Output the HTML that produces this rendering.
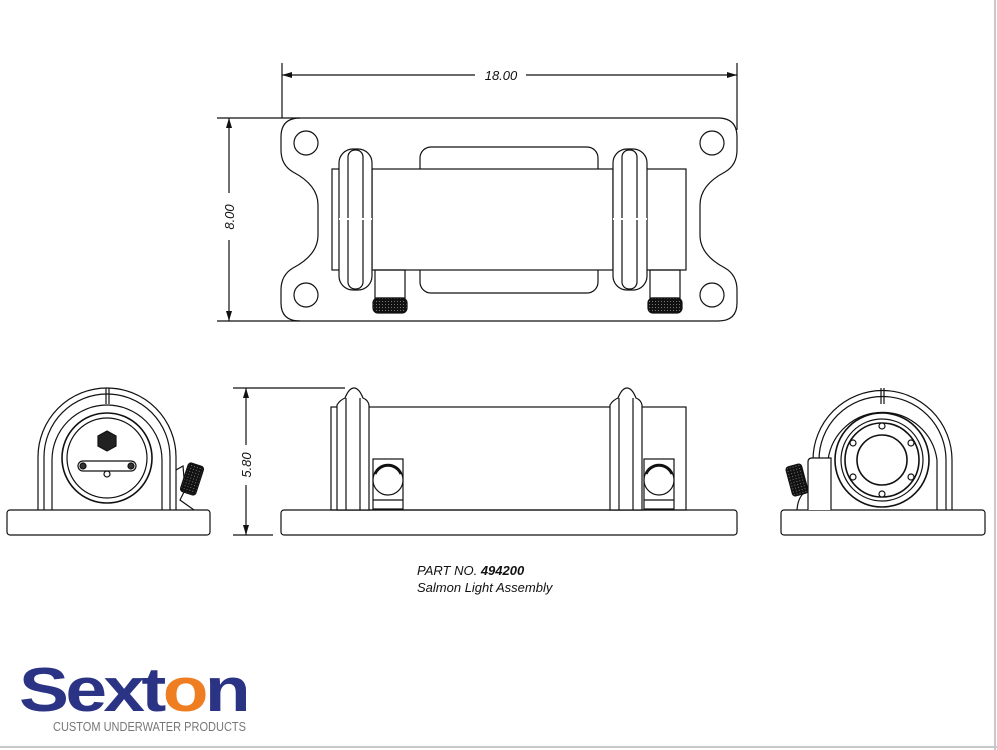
<!DOCTYPE html>
<html><head><meta charset="utf-8"><style>
html,body{margin:0;padding:0;background:#fff;width:997px;height:750px;overflow:hidden}
svg{display:block}
</style></head><body>
<svg width="997" height="750" viewBox="0 0 997 750" xmlns="http://www.w3.org/2000/svg" font-family="Liberation Sans, sans-serif">
<defs>
<pattern id="kn" width="3" height="3" patternUnits="userSpaceOnUse"><rect width="3" height="3" fill="#111"/><rect x="1" y="1" width="1" height="1" fill="#777"/></pattern>
<marker id="ar" viewBox="0 0 10 6" refX="10" refY="3" markerWidth="10" markerHeight="6" markerUnits="userSpaceOnUse" orient="auto-start-reverse"><path d="M0 0 L10 3 L0 6 Z" fill="#111"/></marker>
</defs>
<line x1="995" y1="0" x2="995" y2="750" stroke="#c8c8c8" stroke-width="2"/>
<line x1="0" y1="747" x2="997" y2="747" stroke="#c8c8c8" stroke-width="2"/>
<g fill="none" stroke="#111" stroke-width="1.2">
<!-- dims top -->
<line x1="282" y1="63" x2="282" y2="118"/><line x1="737" y1="63" x2="737" y2="130"/>
<line x1="475" y1="75" x2="282" y2="75" marker-end="url(#ar)"/><line x1="526" y1="75" x2="737" y2="75" marker-end="url(#ar)"/>
<line x1="217" y1="118" x2="300" y2="118"/><line x1="217" y1="321" x2="300" y2="321"/>
<line x1="229" y1="193" x2="229" y2="118" marker-end="url(#ar)"/><line x1="229" y1="240" x2="229" y2="321" marker-end="url(#ar)"/>
<!-- top view plate -->
<path d="M300 118 H718 Q737 118 737 137 V150 Q737 165 725 172 Q700 185 700 205 V235 Q700 255 725 268 Q737 275 737 290 V303 Q737 321 718 321 H300 Q281 321 281 303 V290 Q281 275 293 268 Q318 255 318 235 V205 Q318 185 293 172 Q281 165 281 150 V137 Q281 118 300 118 Z"/>
<circle cx="306" cy="143" r="12"/><circle cx="712" cy="143" r="12"/>
<circle cx="306" cy="295" r="12"/><circle cx="712" cy="295" r="12"/>
<rect x="420" y="147" width="178" height="146" rx="11" fill="#fff"/>
<rect x="332" y="169" width="354" height="101" fill="#fff"/>
<line x1="372" y1="169" x2="372" y2="270"/><line x1="613" y1="169" x2="613" y2="270"/>
<rect x="339" y="149" width="33" height="141" rx="14" fill="#fff"/>
<rect x="348" y="150" width="15" height="139" rx="7"/>
<line x1="339" y1="219" x2="372" y2="219" stroke="#fff" stroke-width="2"/>
<rect x="613" y="149" width="34" height="141" rx="14" fill="#fff"/>
<rect x="622" y="150" width="15" height="139" rx="7"/>
<line x1="613" y1="219" x2="647" y2="219" stroke="#fff" stroke-width="2"/>
<rect x="375" y="270" width="30" height="28"/><rect x="650" y="270" width="30" height="28"/>
<rect x="373" y="298" width="34" height="15" rx="5" fill="url(#kn)"/>
<rect x="648" y="298" width="34" height="15" rx="5" fill="url(#kn)"/>
<!-- side view -->
<line x1="233" y1="388" x2="345" y2="388"/><line x1="233" y1="535" x2="273" y2="535"/>
<line x1="246" y1="445" x2="246" y2="388" marker-end="url(#ar)"/><line x1="246" y1="485" x2="246" y2="535" marker-end="url(#ar)"/>
<rect x="281" y="510" width="456" height="25" rx="3"/>
<rect x="331" y="407" width="355" height="103"/>
<path d="M337 510 V405 Q340 400 345 398 Q349 388 354 388 Q359 388 363 398 Q368 400 369 405 V510 Z" fill="#fff"/>
<line x1="346" y1="398" x2="346" y2="510"/><line x1="360" y1="398" x2="360" y2="510"/>
<path d="M610 510 V405 Q613 400 618 398 Q622 388 627 388 Q632 388 636 398 Q641 400 642 405 V510 Z" fill="#fff"/>
<line x1="619" y1="398" x2="619" y2="510"/><line x1="633" y1="398" x2="633" y2="510"/>
<rect x="373" y="459" width="30" height="50"/><line x1="373" y1="500" x2="403" y2="500"/>
<circle cx="388" cy="480" r="15" fill="#fff"/><path d="M375 474 A14 14 0 0 1 401 474" stroke-width="3"/>
<rect x="644" y="459" width="30" height="50"/><line x1="644" y1="500" x2="674" y2="500"/>
<circle cx="659" cy="480" r="15" fill="#fff"/><path d="M646 474 A14 14 0 0 1 672 474" stroke-width="3"/>
<!-- left end view -->
<rect x="7" y="510" width="203" height="25" rx="3"/>
<path d="M38 510 V457 A69 69 0 0 1 176 457 V510"/>
<path d="M44 510 V457 A63 63 0 0 1 170 457 V510"/>
<path d="M52 510 V460 A55 55 0 0 1 162 460 V510"/>
<line x1="106" y1="388" x2="106" y2="404"/><line x1="109" y1="388" x2="109" y2="404"/>
<circle cx="107" cy="458" r="45" stroke-width="1.6"/>
<circle cx="107" cy="458" r="40"/>
<polygon points="107,431 116,436 116,446 107,451 98,446 98,436" fill="#222"/>
<rect x="78" y="461" width="58" height="10" rx="5" fill="#fff"/>
<circle cx="83" cy="466" r="3" fill="#333"/><circle cx="131" cy="466" r="3" fill="#333"/>
<circle cx="107" cy="474" r="3"/>
<path d="M176 470 L183 466 L185 490 L180 500 L194 510"/>
<rect x="184" y="464" width="16" height="30" rx="3" fill="url(#kn)" transform="rotate(18 192 479)"/>
<!-- right end view -->
<rect x="781" y="510" width="204" height="25" rx="3"/>
<path d="M813 460 A69 69 0 0 1 952 460 V510"/>
<path d="M819 460 A63 63 0 0 1 946 460 V510"/>
<path d="M828 460 A55 55 0 0 1 937 460 V510"/>
<line x1="881" y1="388" x2="881" y2="404"/><line x1="884" y1="388" x2="884" y2="404"/>
<circle cx="882" cy="460" r="47" stroke-width="1.6"/>
<circle cx="882" cy="460" r="41"/>
<circle cx="882" cy="460" r="37" stroke-width="1.6"/>
<circle cx="882" cy="460" r="25" stroke-width="1.6"/>
<g fill="#fff"><circle cx="882" cy="426" r="3"/><circle cx="882" cy="494" r="3"/><circle cx="853" cy="443" r="3"/><circle cx="911" cy="443" r="3"/><circle cx="853" cy="477" r="3"/><circle cx="911" cy="477" r="3"/></g>
<path d="M808 510 V462 Q808 458 812 458 H831 V510" fill="#fff"/>
<path d="M808 490 Q798 495 797 510"/>
<rect x="789" y="465" width="16" height="30" rx="3" fill="url(#kn)" transform="rotate(-15 797 480)"/>
</g>
<g fill="#111" font-style="italic" font-size="13">
<text x="501" y="80" text-anchor="middle">18.00</text>
<text transform="translate(234 217) rotate(-90)" text-anchor="middle">8.00</text>
<text transform="translate(251 465) rotate(-90)" text-anchor="middle">5.80</text>
<text x="417" y="575">PART NO. <tspan font-weight="bold">494200</tspan></text>
<text x="417" y="592">Salmon Light Assembly</text>
</g>
<text x="19" y="711" font-size="62" font-weight="bold" fill="#2b3384" letter-spacing="-3" textLength="228" lengthAdjust="spacingAndGlyphs">Sext<tspan fill="#ef7d22">o</tspan>n</text>
<text x="53" y="731" font-size="12.5" fill="#777" textLength="193" lengthAdjust="spacingAndGlyphs">CUSTOM UNDERWATER PRODUCTS</text>
</svg>
</body></html>
